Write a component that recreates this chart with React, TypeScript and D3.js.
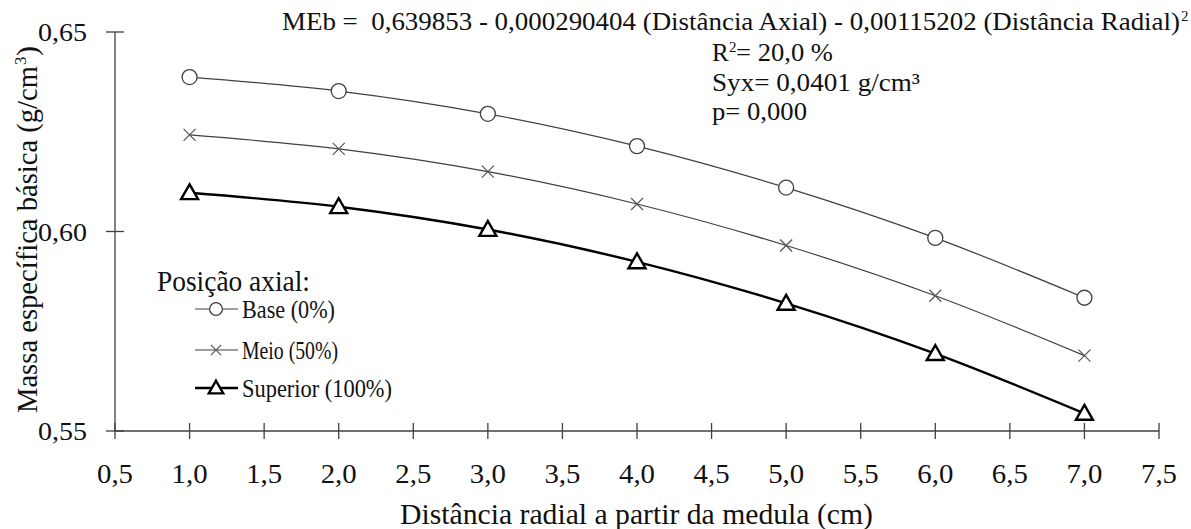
import React from "react";
import * as d3 from "d3";

// distância radial (cm)
const radial = [1, 2, 3, 4, 5, 6, 7];
// massa específica básica (g/cm³)
const baseVals = [0.6387, 0.6352, 0.6295, 0.6214, 0.611, 0.5984, 0.5834];
const meioVals = [0.6242, 0.6207, 0.615, 0.6069, 0.5965, 0.5839, 0.5689];
const superiorVals = [0.6097, 0.6062, 0.6005, 0.5924, 0.582, 0.5694, 0.5544];
const xTicks = [0.5, 1, 1.5, 2, 2.5, 3, 3.5, 4, 4.5, 5, 5.5, 6, 6.5, 7, 7.5];
const yTicks = [0.55, 0.6, 0.65];
const seriesNames = ["Base (0%)", "Meio (50%)", "Superior (100%)"];

const W = 1191;
const H = 529;
const FONT = "Liberation Serif";

const x = d3.scaleLinear().domain([0.5, 7.5]).range([115, 1159]);
const y = d3.scaleLinear().domain([0.55, 0.65]).range([431, 32]);
const fmt = (v: number, d: number) => v.toFixed(d).replace(".", ",");

const line = d3
  .line<number>()
  .x((_, i) => x(radial[i]))
  .y((d) => y(d))
  .curve(d3.curveCatmullRom.alpha(0.5));

const series = [
  { name: seriesNames[0], vals: baseVals, marker: "circle", color: "#404040", width: 1.2 },
  { name: seriesNames[1], vals: meioVals, marker: "cross", color: "#404040", width: 1.2 },
  { name: seriesNames[2], vals: superiorVals, marker: "triangle", color: "#000", width: 2.4 },
];

// texto serifado, largura opcional
const T = ({ x: tx, y: ty, size, len, anchor = "start", children }: any) => (
  <text
    x={tx}
    y={ty}
    fontSize={size}
    textAnchor={anchor}
    fill="#111"
    textLength={len}
    lengthAdjust={len ? "spacingAndGlyphs" : undefined}
    style={{ fontFamily: FONT, whiteSpace: "pre" }}
  >
    {children}
  </text>
);

const Marker = ({ kind, cx, cy, k = 1 }: any) => {
  if (kind === "circle")
    return <circle cx={cx} cy={cy} r={7.5 * k} fill="#fff" stroke="#404040" strokeWidth={1.3} />;
  if (kind === "cross") {
    const s = 6 * k;
    return (
      <path
        d={`M${cx - s},${cy - s}L${cx + s},${cy + s}M${cx - s},${cy + s}L${cx + s},${cy - s}`}
        stroke="#555"
        strokeWidth={1.2}
        fill="none"
      />
    );
  }
  const s = 8.5 * k;
  return (
    <path
      d={`M${cx},${cy - s}L${cx + s},${cy + s * 0.75}L${cx - s},${cy + s * 0.75}Z`}
      fill="#fff"
      stroke="#000"
      strokeWidth={2.4}
    />
  );
};

const legY = [309, 350, 388];
const legLen = [93, 96, 150];

const App = () => (
  <div style={{ position: "absolute", left: 0, top: 0 }}>
    <svg width={W} height={H} style={{ display: "block", background: "#fff" }}>
      {/* eixos */}
      <g stroke="#404040" strokeWidth={1.3}>
        <line x1={x(0.5)} x2={x(7.5)} y1={y(0.55)} y2={y(0.55)} />
        <line x1={x(0.5)} x2={x(0.5)} y1={y(0.55)} y2={y(0.65)} />
        {xTicks.map((d) => (
          <line key={d} x1={x(d)} x2={x(d)} y1={y(0.55) - 8} y2={y(0.55) + 8} />
        ))}
        {yTicks.map((d) => (
          <line key={d} x1={x(0.5) - 9} x2={x(0.5) + 9} y1={y(d)} y2={y(d)} />
        ))}
      </g>

      {/* séries */}
      {series.map((s) => (
        <g key={s.name}>
          <path d={line(s.vals) || ""} fill="none" stroke={s.color} strokeWidth={s.width} />
          {s.vals.map((v, i) => (
            <Marker key={i} kind={s.marker} cx={x(radial[i])} cy={y(v)} />
          ))}
        </g>
      ))}

      {xTicks.map((d) => (
        <T key={d} x={x(d)} y={483} size={28} len={36} anchor="middle">
          {fmt(d, 1)}
        </T>
      ))}
      {yTicks.map((d) => (
        <T key={d} x={87} y={y(d) + 9} size={26} len={49} anchor="end">
          {fmt(d, 2)}
        </T>
      ))}

      <T x={400} y={524} size={30} len={473}>
        Distância radial a partir da medula (cm)
      </T>

      <g transform="translate(37,413) rotate(-90)">
        <T x={0} y={0} size={30} len={347}>
          Massa específica básica (g/cm
        </T>
        <T x={348} y={-11} size={17}>
          3
        </T>
        <T x={357} y={0} size={30}>
          )
        </T>
      </g>

      {/* equação */}
      <T x={282} y={30} size={25} len={898}>
        {"MEb =  0,639853 - 0,000290404 (Distância Axial) - 0,00115202 (Distância Radial)"}
      </T>
      <T x={1181} y={21} size={15}>
        2
      </T>
      <T x={712} y={61} size={25}>
        R
      </T>
      <T x={729} y={52} size={15}>
        2
      </T>
      <T x={736} y={61} size={25} len={97}>
        = 20,0 %
      </T>
      <T x={712} y={91} size={25} len={208}>
        Syx= 0,0401 g/cm³
      </T>
      <T x={712} y={120} size={25} len={95}>
        p= 0,000
      </T>

      {/* legenda */}
      <T x={157} y={291} size={29} len={153}>
        Posição axial:
      </T>
      {series.map((s, i) => (
        <g key={s.name}>
          <line x1={195} x2={238} y1={legY[i]} y2={legY[i]} stroke={s.color} strokeWidth={s.width} />
          <Marker kind={s.marker} cx={216} cy={legY[i]} k={0.85} />
          <T x={242} y={legY[i] + 9} size={26} len={legLen[i]}>
            {s.name}
          </T>
        </g>
      ))}
    </svg>
  </div>
);

export default App;
